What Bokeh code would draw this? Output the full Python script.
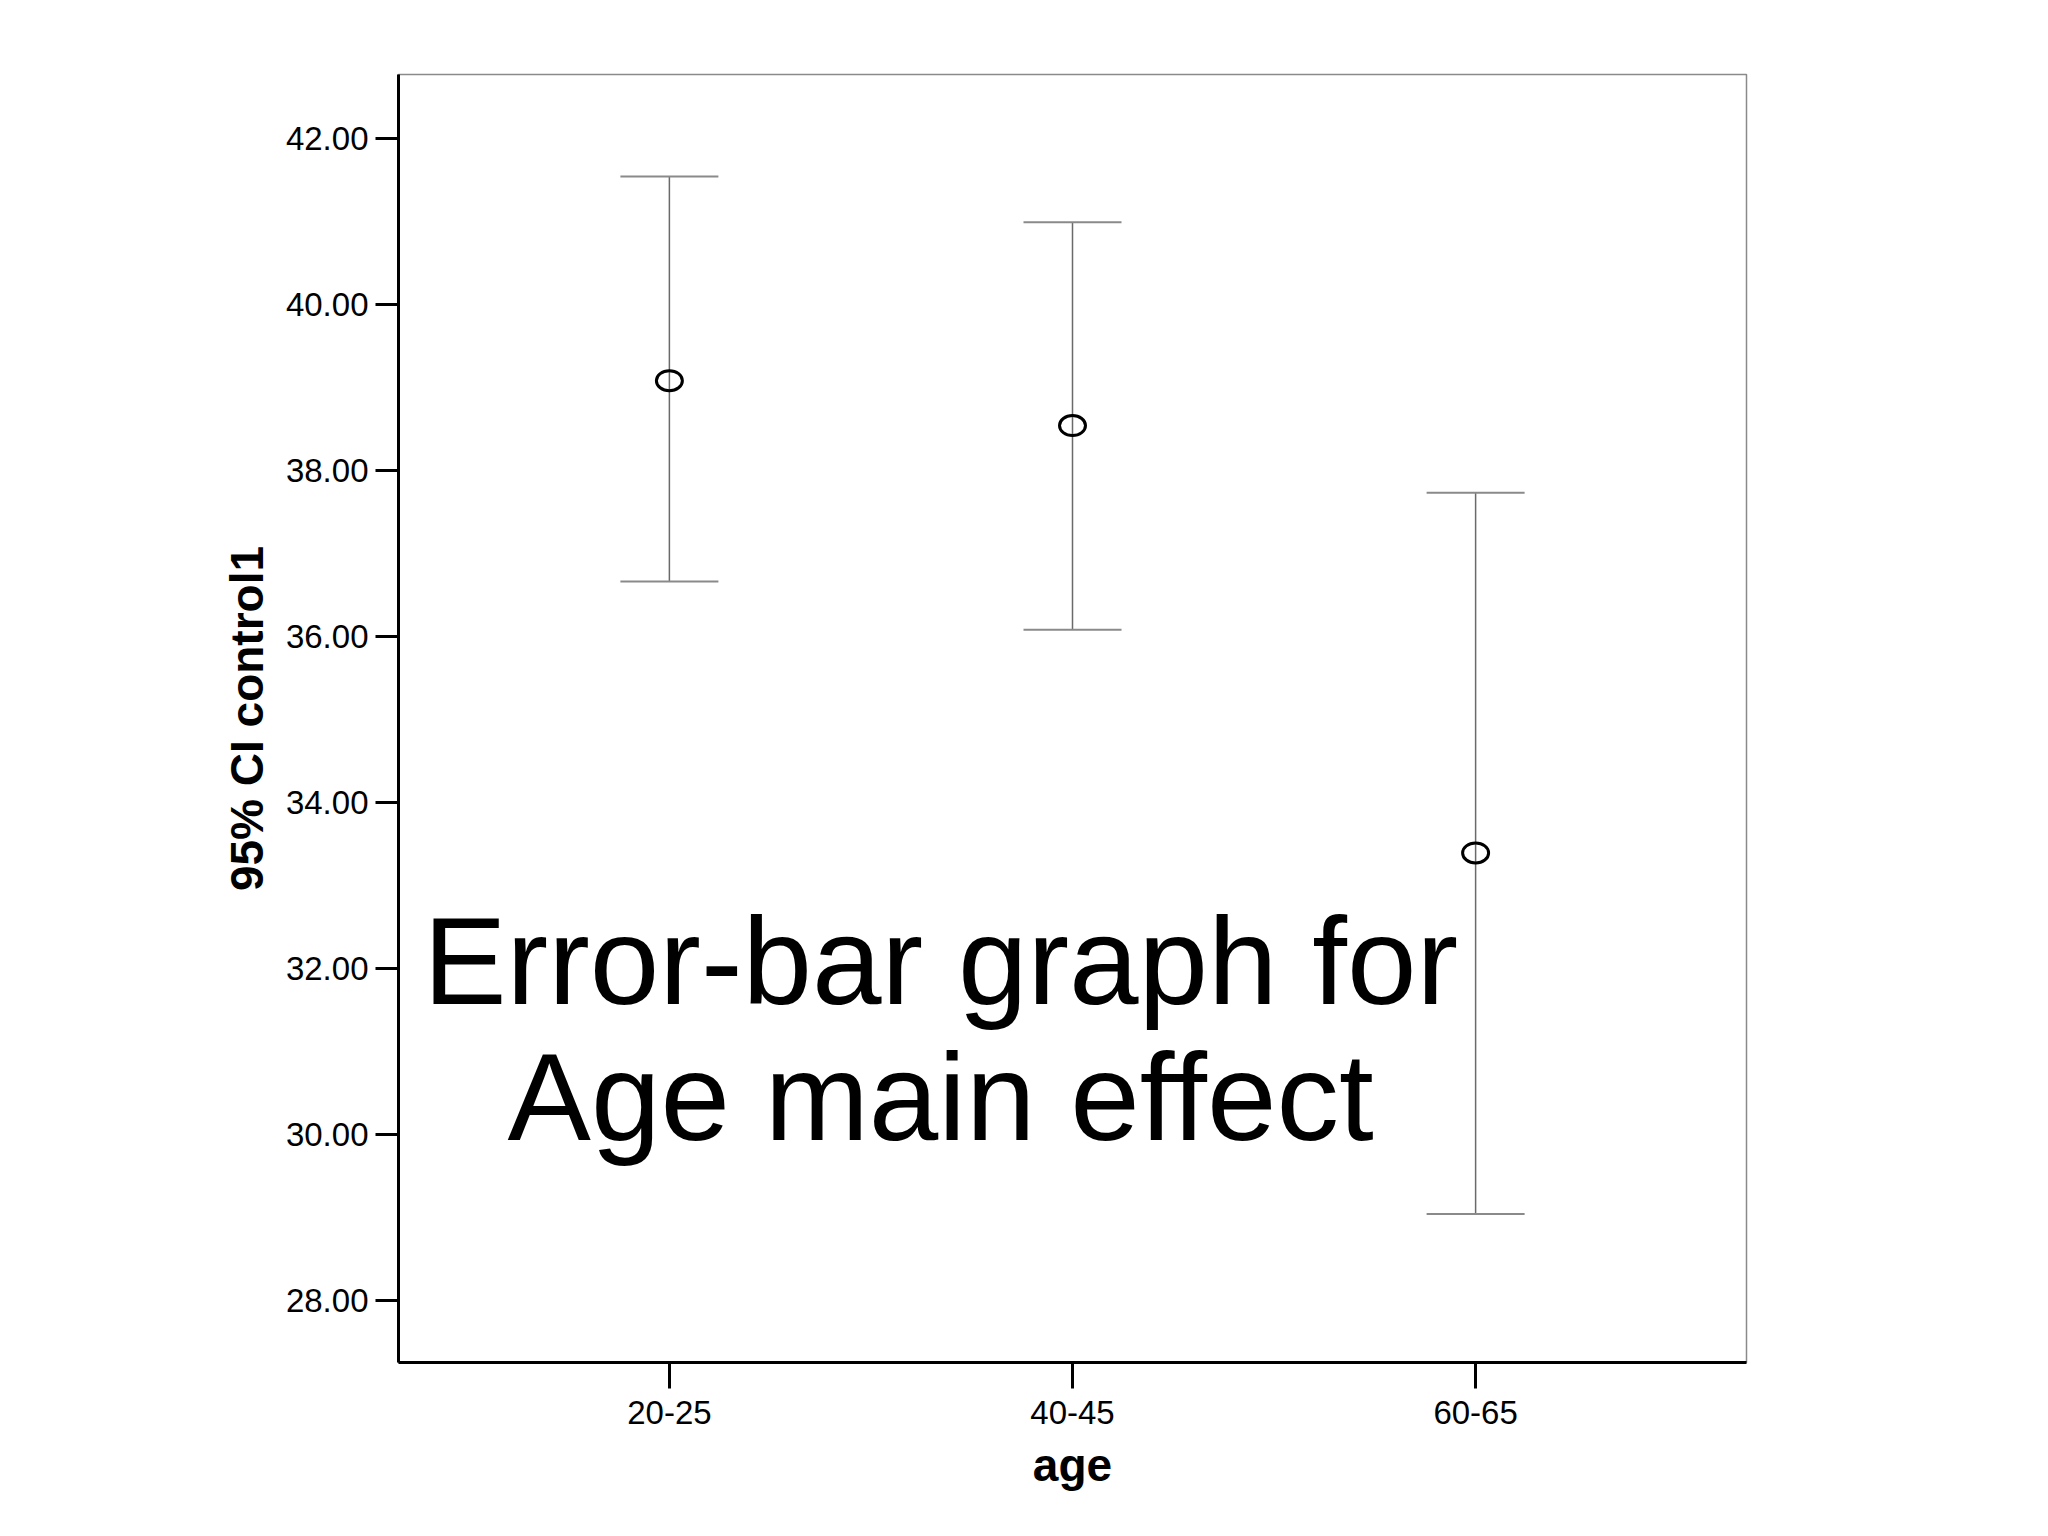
from bokeh.plotting import figure
from bokeh.models import ColumnDataSource, FactorRange, Whisker, TeeHead, Label, CustomJSTickFormatter
from bokeh.embed import file_html
from bokeh.resources import INLINE

# data
ages = ["20-25", "40-45", "60-65"]
means = [39.08, 38.54, 33.39]
upper = [41.54, 40.99, 37.73]
lower = [36.66, 36.08, 29.04]
y_ticks = [28, 30, 32, 34, 36, 38, 40, 42]
title_lines = ["Error-bar graph for", "Age main effect"]

src = ColumnDataSource(dict(age=ages, mean=means, upper=upper, lower=lower))

FONT = "Liberation Sans"

p = figure(
    width=2030, height=1520,
    x_range=FactorRange(factors=ages, range_padding=0.172, range_padding_units="absolute"),
    y_range=(27.25, 42.77),
    output_backend="svg", toolbar_location=None,
    min_border_left=398, min_border_top=74, min_border_right=284, min_border_bottom=158,
)
p.background_fill_color = "white"
p.border_fill_color = "white"
p.grid.visible = False
p.outline_line_color = "#8a8a8a"
p.outline_line_width = 1.5

p.yaxis.ticker = y_ticks
p.yaxis.formatter = CustomJSTickFormatter(code="return tick.toFixed(2);")

for ax in (p.xaxis[0], p.yaxis[0]):
    ax.axis_line_color = "black"
    ax.axis_line_width = 3
    ax.major_tick_line_color = "black"
    ax.major_tick_line_width = 3
    ax.major_tick_in = 0
    ax.minor_tick_line_color = None
    ax.major_label_text_font = FONT
    ax.major_label_text_font_size = "33px"
    ax.major_label_text_color = "black"
    ax.axis_label_text_font = FONT
    ax.axis_label_text_font_style = "bold"
    ax.axis_label_text_font_size = "46px"
    ax.axis_label_text_color = "black"

p.yaxis.major_tick_out = 23
p.yaxis.major_label_standoff = 7
p.yaxis.axis_label = "95% CI control1"
p.yaxis.axis_label_standoff = 10

p.xaxis.major_tick_out = 26
p.xaxis.major_label_standoff = 12
p.xaxis.axis_label = "age"
p.xaxis.axis_label_standoff = 12

w = Whisker(
    source=src, base="age", upper="upper", lower="lower", dimension="height",
    line_color="#6a6a6a", line_width=1.5,
    upper_head=TeeHead(size=98, line_color="#8a8a8a", line_width=2),
    lower_head=TeeHead(size=98, line_color="#8a8a8a", line_width=2),
)
p.add_layout(w)

p.ellipse(x="age", y="mean", width=26, height=20, width_units="screen", height_units="screen",
          source=src, fill_color=None, line_color="black", line_width=3)

p.add_layout(Label(x=1.173, y=32.10, text=title_lines[0], text_align="center",
                   text_baseline="alphabetic", text_font=FONT, text_font_size="125px",
                   text_color="black"))
p.add_layout(Label(x=1.173, y=30.45, text=title_lines[1], text_align="center",
                   text_baseline="alphabetic", text_font=FONT, text_font_size="125px",
                   text_color="black"))

open("out.html", "w").write(file_html(p, INLINE))
